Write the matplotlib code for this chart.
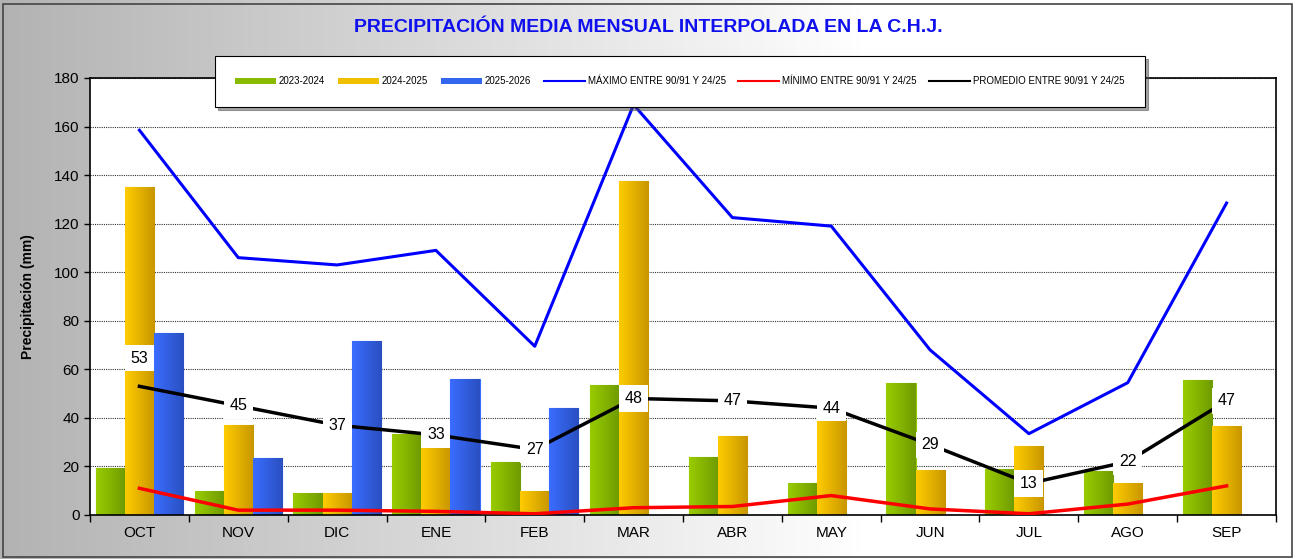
import matplotlib
matplotlib.use("Agg")
import matplotlib.pyplot as plt
import numpy as np
from matplotlib.patches import Rectangle
from matplotlib.lines import Line2D

months = ["OCT", "NOV", "DIC", "ENE", "FEB", "MAR", "ABR", "MAY", "JUN", "JUL", "AGO", "SEP"]
s2324 = [19.5, 10, 9, 33.5, 22, 53.5, 24, 13, 54.5, 19, 18, 55.5]
s2425 = [135, 37, 9, 27.5, 10, 137.5, 32.5, 39, 18.5, 28.5, 13, 36.5]
s2526 = [75, 23.5, 71.5, 56, 44]
maximo = [158.5, 106, 103, 109, 69.5, 169, 122.5, 119, 68, 33.5, 54.5, 128.5]
minimo = [11, 2, 2, 1.5, 0.5, 3, 3.5, 8, 2.5, 0.5, 4.5, 12]
promedio = [53, 45, 37, 33, 27, 48, 47, 44, 29, 13, 22, 47]
series_names = ["2023-2024", "2024-2025", "2025-2026"]
line_names = ["MÁXIMO ENTRE 90/91 Y 24/25", "MÍNIMO ENTRE 90/91 Y 24/25", "PROMEDIO ENTRE 90/91 Y 24/25"]

plt.rcParams['font.family'] = ['Liberation Sans', 'DejaVu Sans']

W, H = 1297, 559
fig = plt.figure(figsize=(W/100, H/100), dpi=100)

# background gradient
bg = fig.add_axes([0, 0, 1, 1], zorder=-10)
grad = np.linspace(0, 1, 256)
col = 0.70 + 0.30 * np.clip(grad * 1.5, 0, 1)
img = np.stack([col, col, col], axis=-1)[None, :, :]
img = np.repeat(img, 2, axis=0)
bg.imshow(img, aspect='auto', extent=[0, 1, 0, 1])
bg.set_xlim(0, 1); bg.set_ylim(0, 1)
bg.axis('off')
bg.add_patch(Rectangle((0.002, 0.003), 0.994, 0.99, fill=False, edgecolor='#444444', lw=1.2))

ax = fig.add_axes([90/W, 1-515/H, (1276-90)/W, (515-78)/H])
ax.set_facecolor('white')

x = np.arange(len(months))
bw = 0.295

def grad_bar(ax, xc, h, c1, c2, label=None):
    bars = ax.bar(xc, h, width=bw, color=c1, edgecolor=c1, lw=0.8, zorder=2, label=label)
    for b in bars:
        x0, y0 = b.get_x(), b.get_y()
        w, hh = b.get_width(), b.get_height()
        g = np.linspace(0, 1, 64)
        rgb1 = np.array(matplotlib.colors.to_rgb(c1))
        rgb2 = np.array(matplotlib.colors.to_rgb(c2))
        arr = rgb1[None, :] * (1 - g[:, None]) + rgb2[None, :] * g[:, None]
        arr = arr[None, :, :]
        im = ax.imshow(arr, aspect='auto', extent=[x0, x0 + w, y0, y0 + hh], zorder=2.1,
                       interpolation='bilinear')
        im.set_clip_path(b)
    return bars

grad_bar(ax, x - bw, s2324, '#99cc00', '#6f9a00')
grad_bar(ax, x, s2425, '#ffcc00', '#c89600')
grad_bar(ax, np.arange(len(s2526)) + bw, s2526, '#3a6dff', '#2a4fc0')

ax.plot(x, maximo, color='#0000ff', lw=2.2, zorder=4)
ax.plot(x, minimo, color='#ff0000', lw=2.5, zorder=4)
ax.plot(x, promedio, color='black', lw=2.5, zorder=4)

for i, v in enumerate(promedio):
    yy = v + (11.5 if i == 0 else 0)
    ax.text(x[i], yy, f"{v}", ha='center', va='center', fontsize=11.5, zorder=6,
            bbox=dict(boxstyle='square,pad=0.35', fc='white', ec='none'))

ax.set_xlim(-0.5, len(months) - 0.5)
ax.set_ylim(0, 180)
ax.set_yticks(np.arange(0, 181, 20))
ax.set_xticks(x)
ax.set_xticklabels(months, fontsize=11)
ax.set_xticks(np.arange(-0.5, len(months), 1), minor=True)
ax.tick_params(axis='x', which='major', length=0, pad=8)
ax.tick_params(axis='x', which='minor', length=5, direction='out', width=1)
ax.tick_params(axis='y', length=4, direction='out', labelsize=11, width=1)
ax.yaxis.grid(True, linestyle=(0, (1, 1)), color='#333333', lw=0.8, zorder=0)
ax.set_axisbelow(True)
for sp in ax.spines.values():
    sp.set_linewidth(1.2)
ax.set_ylabel("Precipitación (mm)", fontsize=10, fontweight='bold', labelpad=14)

fig.text(0.5, 1-28/H, "PRECIPITACIÓN MEDIA MENSUAL INTERPOLADA EN LA C.H.J.", color='#1010ee',
         fontsize=14, fontweight='bold', ha='center', va='center')

# legend
handles = [
    Rectangle((0, 0), 1, 1, fc='#88bb00', ec='none'),
    Rectangle((0, 0), 1, 1, fc='#f0c000', ec='none'),
    Rectangle((0, 0), 1, 1, fc='#3366ee', ec='none'),
    Line2D([], [], color='#0000ff', lw=1.5),
    Line2D([], [], color='#ff0000', lw=1.5),
    Line2D([], [], color='black', lw=1.5),
]
labels = series_names + line_names
leg = fig.legend(handles, labels, loc='center', ncol=6, fontsize=7,
                 bbox_to_anchor=(210/W, 1-107/H, (1150-210)/W, (107-56)/H),
                 mode='expand', frameon=True, fancybox=False, shadow=True,
                 handlelength=4.2, handleheight=0.5, handletextpad=0.3, borderpad=2.1,
                 columnspacing=1.5)
leg.get_frame().set_edgecolor('black')
leg.get_frame().set_linewidth(0.8)

fig.savefig("out.png", dpi=100)
